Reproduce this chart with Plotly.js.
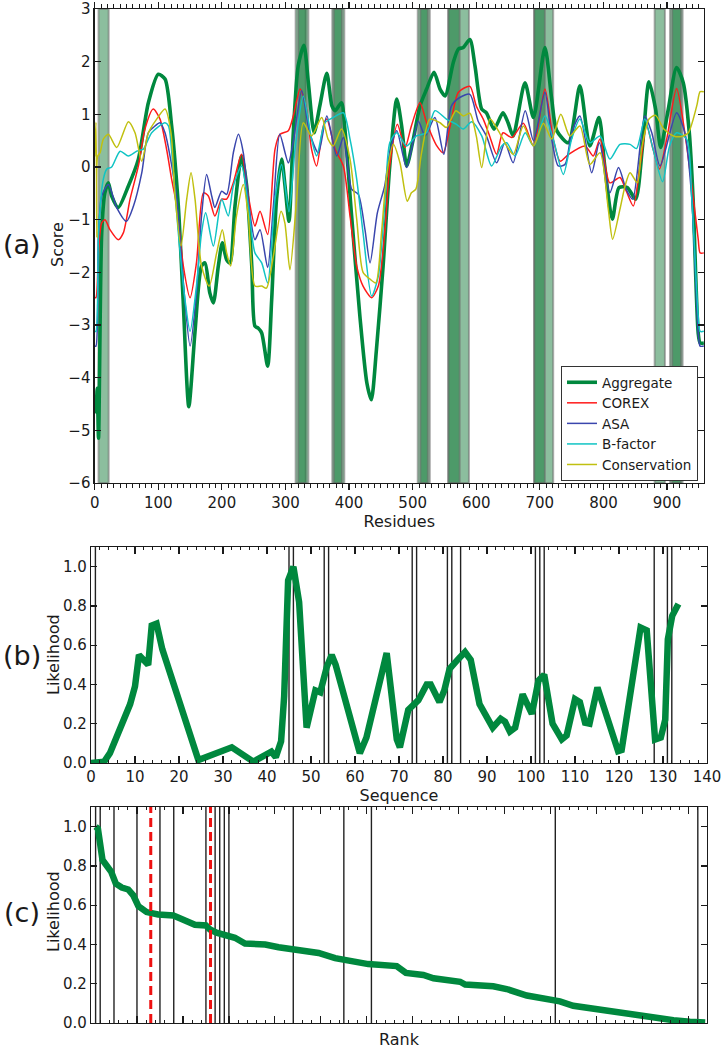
<!DOCTYPE html>
<html><head><meta charset="utf-8">
<script src="https://cdn.plot.ly/plotly-3.0.1.min.js"></script>
<style>html,body{margin:0;padding:0;background:#fff}#chart{width:724px;height:1050px}</style>
</head><body><div id="chart"></div>
<script>
// ---------- Panel (a): per-residue scores ----------
const aggX = [0,2,4,6,11,16,21.5,26.7,37,53,68.7,84.4,100,110.6,121,131.5,139,148,157.6,168,173.5,181,186.6,194.4,200.7,207.5,212.8,220.6,231,239,247,252,257.3,262.6,272,278.3,286,294,299.3,305.5,312.3,320,329,336,345,354,365,373,378,388,393,404,417,428,435,443,453.5,464,475,482.7,490.6,501,511.5,522,533.6,543,551,564,572,579.6,590,598,608.6,616,628,642,650,658,676.6,690,708,718.6,726.5,745,763,778.6,793,802,814,824.5,837.6,850.6,861,871.6,882,890,902,915,925.5,935,941,949,952,958];
const aggY = [-4.4,-4.65,-4.2,-5.15,-1.25,-0.49,-0.3,-0.55,-0.77,-0.36,0.15,1.22,1.76,1.67,0.78,-0.74,-2.5,-4.55,-3.15,-1.88,-1.82,-2.39,-2.58,-1.88,-1.44,-1.76,-1.82,-0.74,0.21,-0.36,-1.88,-3.02,-3.06,-3.15,-3.78,-2.52,-0.6,0.15,-0.36,-1.03,0.65,1.92,2.31,1.6,0.65,1.16,1.78,1.16,1.07,1.22,0.78,-0.93,-2.83,-4.1,-4.42,-3.47,-1.88,0.02,1.29,0.78,0.02,0.53,1.16,1.48,1.8,1.48,1.35,1.99,2.24,2.27,2.42,1.92,1.1,1.03,0.72,1.03,0.84,0.59,1.6,0.94,2.27,1.29,0.69,0.46,1.54,0.4,0.94,0.02,-0.99,-0.39,-0.39,-0.61,0.34,1.62,1.1,0.37,1.1,1.89,1.6,0.65,-0.61,-3.15,-3.34,-3.34];

const corexX = [0,2,6,11,16.2,24,37,45,55.6,68.7,79,92,102.7,113,121,129,139.4,150,160,171,178.7,189,199.7,207.5,218,231,241.6,252,260,272,283.6,291.4,304.5,312.3,323,333,341,349,359.5,365,378,391,401.5,412,422,435.5,446,456,464,476,488,498,511.5,522,538,548,559,572,590,600,611,621,632,642,656,674,690,708,721,732,745,771,784,794.6,810,826,836,847,857.6,868,878,888,899.5,915,928,939,949,952,958];
const corexY = [-2.48,-2.48,-1.6,-1.06,-1.0,-1.19,-1.38,-1.25,-0.61,0.02,0.72,1.1,0.91,0.34,-0.23,-0.74,-1.88,-2.48,-1.82,-0.49,-0.55,-0.93,-0.61,-0.61,-0.3,0.24,-0.55,-1.12,-0.84,-1.28,0.34,0.62,0.69,0.97,1.48,1.1,0.34,0.02,0.78,0.91,0.34,0.02,-0.93,-1.88,-2.26,-2.48,-2.26,-1.25,0.02,0.81,0.37,0.78,1.22,0.84,0.4,0.27,0.78,1.42,1.53,1.16,0.91,0.59,0.24,0.65,0.56,0.83,0.4,1.48,0.53,0.11,0.24,0.4,0.21,0.53,-0.3,-0.2,-0.46,-0.74,0.02,0.78,0.34,-0.04,0.53,1.49,0.65,-0.36,-1.37,-1.63,-1.63];

const asaX = [0,2,6,11,21.5,34.6,50,61,74,84.4,95,102.7,110.6,118.4,129,139.4,150,160,168,176,184,189,199.7,207.5,218,226,233.7,244,252,260,272,281,291,304.5,312,325.5,338,351.7,365,380.5,391,404,414.6,425,433,444.5,456,464,475,490.6,509,519.5,535,549,561,574,590,603,616,632,645,658,677,690,708,718.6,729,739.6,750,763,781.5,793.6,810,823.7,835.6,846,865,876,889,915,928,939,949,952,958];
const asaY = [-3.4,-3.4,-1.3,-0.55,-0.33,-0.77,-1.03,-0.74,-0.11,0.65,0.78,0.84,0.65,0.21,-0.61,-2.2,-3.4,-2.39,-0.93,-0.14,-0.55,-0.77,-0.46,-0.52,0.27,0.62,0.27,-0.87,-1.38,-1.19,-1.91,-0.74,0.62,0.08,0.46,1.45,0.65,0.27,0.97,0.21,0.56,-0.42,-0.52,-1.19,-1.82,-0.87,-0.36,0.27,0.69,-0.01,0.87,0.59,0.94,0.24,1.16,1.32,1.38,0.87,0.59,0.08,0.46,0.08,1.07,0.5,1.42,0.53,0.02,0.05,0.65,0.97,-0.11,0.46,-0.49,-0.01,-0.42,-0.61,0.97,0.65,0.02,1.03,0.65,-0.61,-3.15,-3.4,-3.4];

const bfacX = [0,2,6,13.6,19,26.7,40,53,66,76.5,89.6,110.6,116,123.7,131.5,142,150,160,168,174.5,186.6,199.7,210,218,231,241.6,252,262.6,272,283.6,294,305.5,315,328,341,349,362,375,391,401.5,412,422,435.5,446,456,464,475,490.6,506,522,535,553,569,579.6,592.8,608.6,624,640,648,661,677,690,708,721,737,750,763,778.6,794.6,810,826,841.8,852,865,878,893,904,915,931,939,949,952,958];
const bfacY = [-3.12,-3.12,-1.25,-0.23,-0.04,0.0,0.3,0.21,0.3,0.34,0.65,0.84,0.78,-0.11,-1.25,-2.52,-3.12,-2.26,-1.25,-0.87,-1.5,-0.61,-0.93,-0.36,0.02,-0.74,-1.63,-1.82,-2.2,-0.61,0.05,-0.85,0.34,1.35,0.53,0.21,0.84,0.94,1.03,0.53,-0.23,-1.25,-2.45,-2.07,-0.74,0.46,0.65,0.4,0.59,0.65,1.07,0.91,0.81,0.72,0.86,0.59,0.02,0.4,0.46,0.21,0.65,0.4,0.97,0.53,-0.14,0.53,0.91,0.46,0.59,0.15,0.43,0.43,0.35,0.91,0.34,-0.28,0.4,0.65,0.53,-0.61,-2.83,-3.12,-3.12];

const consX = [0,2,3.5,4.5,8.4,13.6,21.5,34.6,53,63.4,74,84.4,97.5,110.6,120,126,135.7,144.7,151.5,157.8,168,180,191.8,200.7,207.5,213.8,223,233.7,241.6,252,262.6,270,281,293,299,307,317.6,328,341,357,367,375,388,401.5,412,422,433,442,451,459,469.6,480,491.5,498,505,514,527,543,553,568,579.6,590,600,608.6,621.6,634.6,648,658.4,674,690,705.6,718.6,733,747,763,778.6,794.6,807.6,814.4,826,834,841.8,853.3,860,871.6,882,895,910,923,933.5,946.7,952,958];
const consY = [0.2,0.85,-1.34,0.2,0.27,0.53,0.62,0.37,0.86,0.65,0.11,0.65,0.91,1.1,0.65,-0.49,-1.5,-0.61,-0.11,-0.61,-1.88,-2.26,-1.63,-1.19,-1.63,-1.88,-0.93,-0.33,-0.93,-2.26,-2.26,-2.3,-1.69,-0.84,-1.06,-1.95,-0.61,0.84,0.59,0.94,0.53,0.4,0.72,0.15,-0.99,-2.0,-2.13,-2.2,-1.25,-0.17,0.43,0.08,-0.65,-0.49,-0.42,0.27,0.91,0.84,0.75,1.07,0.97,1.02,0.59,-0.01,0.91,0.69,0.4,0.24,0.78,0.4,0.83,0.53,1.0,0.59,0.78,0.05,0.27,-0.8,-1.37,-0.8,-0.36,-0.11,-0.3,0.34,0.91,0.98,0.72,0.59,0.58,0.65,1.16,1.43,1.43];

// highlighted residue windows (start, end)
const bandStart = [6,316,320,373.6,376,508,512,556,556,691,691,880.5,904.6,908];
const bandEnd   = [22,332,336,392.5,389,527,524,588.5,574,721,708,896.7,924.5,922];

// ---------- Panel (b): likelihood along sequence ----------
const seqX = [0,3,4.3,8.9,10,10.9,13,13.8,14.9,16.2,24.4,32,36.9,41,42,43.2,43.9,44.8,46,47.3,49,51,52.1,53.6,54.7,55.6,61.1,62.6,67.2,69.5,70.2,72.1,74.4,76.3,77.2,79.2,80.3,81.5,83.5,85,86.3,88.3,91.3,93.1,94.1,95.2,96.4,98.1,100.2,101.7,103,104.9,107,108.1,110,111.1,112.3,113.3,115.1,119.8,120.6,124.9,126.3,128.2,129.5,130.5,131.1,132.1,133.5];
const seqLik = [0,0.007,0.05,0.30,0.39,0.55,0.50,0.70,0.71,0.58,0.015,0.08,0.007,0.058,0.03,0.11,0.34,0.93,1.0,0.82,0.18,0.37,0.36,0.49,0.55,0.50,0.05,0.13,0.56,0.12,0.08,0.27,0.32,0.40,0.40,0.31,0.37,0.48,0.53,0.565,0.525,0.30,0.18,0.225,0.21,0.16,0.18,0.35,0.25,0.42,0.45,0.20,0.12,0.14,0.325,0.31,0.205,0.20,0.385,0.06,0.066,0.69,0.675,0.12,0.13,0.22,0.63,0.75,0.81];
const seqSites = [1,45,46,53,54,73,74,81,82,84,101,102,103,128,131,132];

// ---------- Panel (c): likelihood by rank ----------
const rankX = [1,1.5,2.5,3.6,4.4,5.4,6.7,8.1,9.2,10.3,12.1,14.6,17.9,19.7,22.6,25,25.9,27.3,31.3,33.5,37.9,40.8,46.6,49.5,53.1,56.7,60.3,66.5,68.5,72.3,74.5,80.3,81.4,87.5,90.4,94.8,99.8,102,104.9,110.7,116.5,120.9,124.5,126.7,130.3,133.6];
const rankLik = [1.0,0.99,0.83,0.80,0.77,0.71,0.69,0.68,0.65,0.595,0.565,0.553,0.548,0.53,0.50,0.497,0.476,0.46,0.434,0.405,0.40,0.386,0.37,0.357,0.33,0.315,0.30,0.29,0.255,0.245,0.228,0.21,0.196,0.187,0.173,0.14,0.12,0.11,0.088,0.068,0.048,0.031,0.026,0.014,0.007,0.003];
const rankSites = [1,2,5,10,15,18,25,27,28,29,30,44,55,61,101,132];
const rankRed = [13,26];

const F = 'DejaVu Sans, Bitstream Vera Sans, sans-serif';
const INK = '#1a1a1a';
const GREEN = '#00883e';

const sm = {shape:'spline', smoothing:0.7};
const traces = [
  {x:aggX, y:aggY, name:'Aggregate', mode:'lines', line:Object.assign({color:GREEN, width:3.6}, sm), xaxis:'x', yaxis:'y'},
  {x:corexX, y:corexY, name:'COREX', mode:'lines', line:Object.assign({color:'#ff1a1a', width:1.5}, sm), xaxis:'x', yaxis:'y'},
  {x:asaX, y:asaY, name:'ASA', mode:'lines', line:Object.assign({color:'#3a46ad', width:1.5}, sm), xaxis:'x', yaxis:'y'},
  {x:bfacX, y:bfacY, name:'B-factor', mode:'lines', line:Object.assign({color:'#10c4c4', width:1.5}, sm), xaxis:'x', yaxis:'y'},
  {x:consX, y:consY, name:'Conservation', mode:'lines', line:Object.assign({color:'#c0c010', width:1.5}, sm), xaxis:'x', yaxis:'y'},
  {x:seqX, y:seqLik, mode:'lines', showlegend:false, line:{color:GREEN, width:6.5, shape:'linear'}, xaxis:'x2', yaxis:'y2'},
  {x:rankX, y:rankLik, mode:'lines', showlegend:false, line:{color:GREEN, width:6.5, shape:'linear'}, xaxis:'x3', yaxis:'y3'}
];

const shapes = [];
bandStart.forEach((s,i)=>{
  shapes.push({type:'rect', xref:'x', yref:'y domain', x0:s, x1:bandEnd[i], y0:0, y1:1,
    fillcolor:'rgba(0,110,40,0.45)', line:{color:'rgba(110,110,110,0.55)', width:2}, layer:'below'});
});
seqSites.forEach(s=>{
  shapes.push({type:'line', xref:'x2', yref:'y2 domain', x0:s, x1:s, y0:0, y1:1, line:{color:'#222', width:1.4}, layer:'below'});
});
rankSites.forEach(s=>{
  shapes.push({type:'line', xref:'x3', yref:'y3 domain', x0:s, x1:s, y0:0, y1:1, line:{color:'#222', width:1.4}, layer:'below'});
});
rankRed.forEach(s=>{
  shapes.push({type:'line', xref:'x3', yref:'y3 domain', x0:s, x1:s, y0:0, y1:1, line:{color:'#ee1111', width:3, dash:'9px,5px'}, layer:'above'});
});

const base = {showline:true, linecolor:INK, linewidth:1.2, mirror:'ticks', ticks:'inside', tickcolor:INK,
  ticklen:6, tickwidth:1.2, showgrid:false, zeroline:false, tickfont:{family:F, size:15, color:INK}};
const ttl = (t, sd)=>({text:t, font:{family:F, size:16, color:INK}, standoff:sd});
const ax = (o)=>Object.assign({}, base, o);

// margins: l=91, r=17, t=9, b=27 -> plot area 616 x 1014
const px = (v)=>(v-91)/616;
const py = (v)=>1-(v-9)/1014;
const ann = (t, x, y, size, ang)=>({text:t, xref:'paper', yref:'paper', x:px(x), y:py(y), xanchor:'center', yanchor:'middle',
  showarrow:false, textangle:ang||0, font:{family:F, size:size, color:INK}});

const layout = {
  width:724, height:1050,
  margin:{l:91, r:17, t:9, b:27},
  paper_bgcolor:'#fff', plot_bgcolor:'#fff',
  font:{family:F, color:INK},
  showlegend:true,
  legend:{x:px(698), y:py(481), xanchor:'right', yanchor:'bottom', bgcolor:'#fff', bordercolor:'#333', borderwidth:1,
    font:{family:F, size:13.5, color:INK}, tracegroupgap:0},
  xaxis:ax({domain:[0.006,0.995], range:[0,958], tick0:0, dtick:100, ticks:'outside', ticklen:6,
    minor:{ticks:'outside', dtick:10, ticklen:4, tickcolor:INK, tickwidth:1}, anchor:'y', title:ttl('Residues', 4)}),
  yaxis:ax({domain:[0.5325,1], range:[-6,3], dtick:1, anchor:'x'}),
  xaxis2:ax({domain:[0,1], range:[0,140], dtick:10, anchor:'y2', ticklen:7,
    minor:{ticks:'inside', dtick:2, ticklen:3, tickcolor:INK, tickwidth:1}, title:ttl('Sequence', 2)}),
  yaxis2:ax({domain:[0.2564,0.4694], range:[0,1.1], dtick:0.2, tickformat:'.1f', anchor:'x2'}),
  xaxis3:ax({domain:[0,1], range:[0,134], dtick:10, anchor:'y3', ticklen:7, showticklabels:false,
    minor:{ticks:'inside', dtick:2, ticklen:3, tickcolor:INK, tickwidth:1}, title:ttl('Rank', 10)}),
  yaxis3:ax({domain:[0,0.213], range:[0,1.1], dtick:0.2, tickformat:'.1f', anchor:'x3'}),
  shapes:shapes,
  annotations:[
    ann('Score', 58, 245, 16, -90),
    ann('Likelihood', 53, 655, 16, -90),
    ann('Likelihood', 53, 912, 16, -90),
    ann('(a)', 22, 245, 27),
    ann('(b)', 22, 655, 27),
    ann('(c)', 22, 912, 27)
  ]
};

Plotly.newPlot('chart', traces, layout, {displayModeBar:false, staticPlot:true});
</script>
</body></html>
